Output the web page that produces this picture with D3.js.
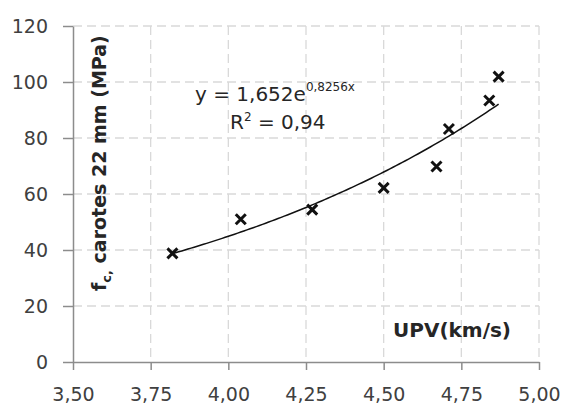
<!DOCTYPE html>
<html>
<head>
<meta charset="utf-8">
<script src="https://cdn.jsdelivr.net/npm/d3@7"></script>
<style>
  body { margin: 0; background: #fff; }
  text { font-family: "DejaVu Sans", sans-serif; }
</style>
</head>
<body>
<div id="chart"></div>
<script>
// measured points (UPV km/s, fc MPa)
var upv = [3.82, 4.04, 4.27, 4.50, 4.67, 4.71, 4.84, 4.87];
var fc  = [38.8, 51.0, 54.4, 62.2, 69.8, 83.2, 93.4, 101.9];
var xTicks = [3.50, 3.75, 4.00, 4.25, 4.50, 4.75, 5.00];
var yTicks = [0, 20, 40, 60, 80, 100, 120];
// exponential trend shown on the chart: y = a * e^(b x)
var trendA = 1.652, trendB = 0.8256;

var width = 563, height = 408;
var plotL = 73, plotR = 539, plotT = 26, plotB = 362;

var svg = d3.select("#chart").append("svg")
  .attr("width", width).attr("height", height);

var x = d3.scaleLinear().domain([3.5, 5.0]).range([plotL, plotR]);
var y = d3.scaleLinear().domain([0, 120]).range([plotB, plotT]);

var fr = d3.formatLocale({decimal: ",", thousands: ".", grouping: [3], currency: ["", ""]});
var fmtX = fr.format(".2f");

// dashed grid
svg.append("g").selectAll("line").data(yTicks.slice(1)).enter().append("line")
  .attr("x1", plotL).attr("x2", plotR)
  .attr("y1", function(d) { return y(d); }).attr("y2", function(d) { return y(d); })
  .attr("stroke", "#d9d9d9").attr("stroke-width", 1.3).attr("stroke-dasharray", "9,5");
svg.append("g").selectAll("line").data(xTicks.slice(1)).enter().append("line")
  .attr("y1", plotT).attr("y2", plotB)
  .attr("x1", function(d) { return x(d); }).attr("x2", function(d) { return x(d); })
  .attr("stroke", "#d9d9d9").attr("stroke-width", 1.3).attr("stroke-dasharray", "9,5");

// axes
var gy = svg.append("g").attr("transform", "translate(" + plotL + ",0)")
  .call(d3.axisLeft(y).tickValues(yTicks).tickSize(10).tickPadding(15).tickSizeOuter(0));
var gx = svg.append("g").attr("transform", "translate(0," + plotB + ")")
  .call(d3.axisBottom(x).tickValues(xTicks).tickFormat(fmtX).tickSize(8).tickPadding(18).tickSizeOuter(0));

[gx, gy].forEach(function(g) {
  g.selectAll("path, line").attr("stroke", "#8c8c8c").attr("stroke-width", 1.5);
  g.selectAll("text").attr("font-size", 19).attr("fill", "#404040")
    .attr("font-family", "'DejaVu Sans', sans-serif");
});

// trend line
var trendX = d3.range(upv[0], d3.max(upv) + 0.0001, 0.01);
var line = d3.line()
  .x(function(d) { return x(d); })
  .y(function(d) { return y(trendA * Math.exp(trendB * d)); });
svg.append("path").datum(trendX)
  .attr("d", line).attr("fill", "none").attr("stroke", "#111").attr("stroke-width", 1.5);

// x markers
var s = 5;
var marks = svg.append("g").selectAll("g").data(upv).enter().append("g")
  .attr("transform", function(d, i) { return "translate(" + x(d) + "," + y(fc[i]) + ")"; });
marks.append("path")
  .attr("d", "M" + (-s) + "," + (-s) + "L" + s + "," + s + "M" + (-s) + "," + s + "L" + s + "," + (-s))
  .attr("stroke", "#111").attr("stroke-width", 3);

// equation
var eq = svg.append("text").attr("x", 195).attr("y", 101).attr("font-size", 20).attr("fill", "#262626");
eq.append("tspan").text("y = 1,652e");
eq.append("tspan").attr("font-size", 12).attr("dy", -10).text("0,8256x");
var r2 = svg.append("text").attr("x", 230).attr("y", 129).attr("font-size", 20).attr("fill", "#262626");
r2.append("tspan").text("R");
r2.append("tspan").attr("font-size", 12).attr("dy", -8).text("2");
r2.append("tspan").attr("dy", 8).text(" = 0,94");

// axis titles
svg.append("text").attr("x", 393).attr("y", 337)
  .attr("font-size", 20).attr("font-weight", "bold").attr("fill", "#262626")
  .text("UPV(km/s)");

var yt = svg.append("text")
  .attr("transform", "translate(106,291) rotate(-90)")
  .attr("font-size", 19).attr("font-weight", "bold").attr("fill", "#262626");
yt.append("tspan").text("f");
yt.append("tspan").attr("font-size", 13).attr("dy", 5).text("c,");
yt.append("tspan").attr("dy", -5).text(" carotes 22 mm (MPa)");
</script>
</body>
</html>
